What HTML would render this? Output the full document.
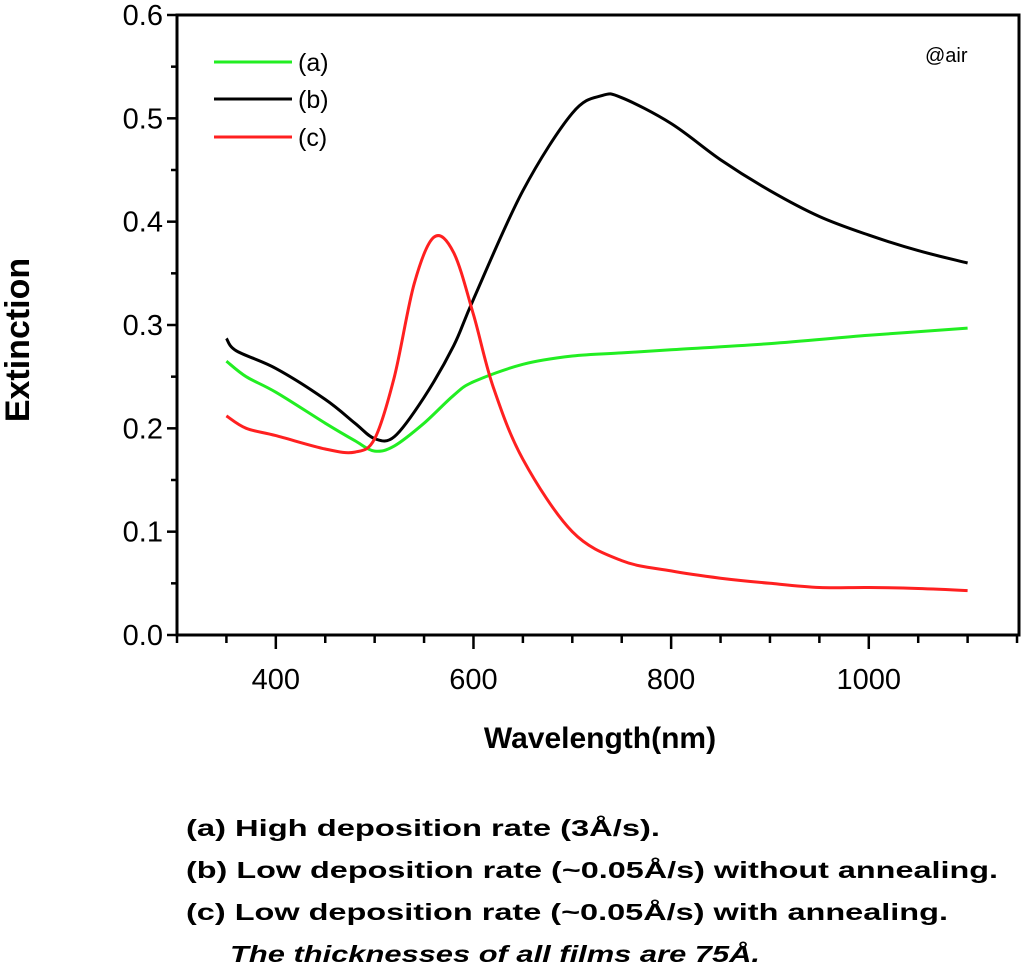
<!DOCTYPE html>
<html><head><meta charset="utf-8"><style>
body{margin:0;background:#fff;}
svg{display:block;font-family:"Liberation Sans",sans-serif;}
</style></head><body>
<svg id="chart" width="1024" height="971" viewBox="0 0 1024 971">
<g id="axes"></g><g id="series"></g>
<text x="18" y="340" transform="rotate(-90 18 340)" text-anchor="middle" dominant-baseline="central" font-size="34" font-weight="bold">Extinction</text>
<text x="600" y="748" text-anchor="middle" font-size="30" font-weight="bold">Wavelength(nm)</text>
<text x="925" y="62" font-size="20">@air</text>
<g>
<line x1="214" y1="62" x2="292" y2="62" stroke="#22ee22" stroke-width="3"/>
<text x="298" y="71" font-size="25">(a)</text>
<line x1="214" y1="99" x2="292" y2="99" stroke="#000" stroke-width="3"/>
<text x="298" y="108" font-size="25">(b)</text>
<line x1="214" y1="137" x2="292" y2="137" stroke="#ff2020" stroke-width="3"/>
<text x="298" y="146" font-size="25">(c)</text>
</g>
<g font-weight="bold" font-size="23">
<text x="186" y="836" textLength="474" lengthAdjust="spacingAndGlyphs">(a)  High deposition rate (3Å/s).</text>
<text x="186" y="878" textLength="812" lengthAdjust="spacingAndGlyphs">(b)  Low deposition rate (~0.05Å/s) without annealing.</text>
<text x="186" y="920" textLength="762" lengthAdjust="spacingAndGlyphs">(c)  Low deposition rate (~0.05Å/s) with annealing.</text>
<text x="230" y="962" font-style="italic" textLength="530" lengthAdjust="spacingAndGlyphs">The thicknesses of all films are 75Å.</text>
</g>
</svg>
<script>
const xA=[350,370,400,450,480,500,520,550,580,600,650,700,750,800,900,1000,1100];
const yA=[0.265,0.25,0.235,0.205,0.188,0.178,0.183,0.205,0.232,0.245,0.262,0.27,0.273,0.276,0.282,0.29,0.297];
const xB=[350,360,400,450,480,500,520,550,580,600,650,700,730,750,800,850,900,950,1000,1050,1100];
const yB=[0.287,0.275,0.258,0.228,0.205,0.19,0.192,0.23,0.28,0.325,0.43,0.505,0.522,0.52,0.495,0.46,0.43,0.405,0.387,0.372,0.36];
const xC=[350,370,400,450,480,500,520,540,560,580,600,620,650,700,750,800,850,900,950,1000,1050,1100];
const yC=[0.212,0.2,0.193,0.18,0.177,0.19,0.25,0.34,0.385,0.37,0.31,0.24,0.17,0.1,0.072,0.062,0.055,0.05,0.046,0.046,0.045,0.043];
const xTicks=[400,600,800,1000];
const yTicks=[0.0,0.1,0.2,0.3,0.4,0.5,0.6];
const L=177,R=1019,T=15,B=635,X0=300,X1=1152;
const sx=v=>L+(v-X0)/(X1-X0)*(R-L);
const sy=v=>B-v/0.6*(B-T);
const NS="http://www.w3.org/2000/svg";
const ax=document.getElementById('axes'),se=document.getElementById('series');
function mk(tag,at,p){const e=document.createElementNS(NS,tag);for(const k in at)e.setAttribute(k,at[k]);p.appendChild(e);return e;}
let r=mk('rect',{x:L,y:T,width:R-L,height:B-T,fill:'none',stroke:'#000','stroke-width':3},ax);


for(let v=300;v<=1150;v+=50){const maj=xTicks.includes(v);const t=mk('line',{x1:sx(v),x2:sx(v),y1:B,y2:B+(maj?14:8),stroke:'#000','stroke-width':2.5},ax);

}
xTicks.forEach(v=>{const t=mk('text',{x:sx(v),y:B+54,'text-anchor':'middle','font-size':29},ax);t.textContent=v;

});
for(let i=0;i<=12;i++){const v=i*0.05;const maj=i%2==0;const t=mk('line',{x1:L-(maj?10:6),x2:L,y1:sy(v),y2:sy(v),stroke:'#000','stroke-width':2.5},ax);

}
yTicks.forEach(v=>{const t=mk('text',{x:L-14,y:sy(v)+10,'text-anchor':'end','font-size':29},ax);t.textContent=v.toFixed(1);

});
function line(xs,ys,c,n){const P=xs.map((x,i)=>[sx(x),sy(ys[i])]);
let d='M'+P[0][0].toFixed(1)+','+P[0][1].toFixed(1);
for(let i=0;i<P.length-1;i++){const p0=P[i-1]||P[i],p1=P[i],p2=P[i+1],p3=P[i+2]||p2;
const c1=[p1[0]+(p2[0]-p0[0])/6,p1[1]+(p2[1]-p0[1])/6],c2=[p2[0]-(p3[0]-p1[0])/6,p2[1]-(p3[1]-p1[1])/6];
d+='C'+c1.map(v=>v.toFixed(1))+' '+c2.map(v=>v.toFixed(1))+' '+p2.map(v=>v.toFixed(1));}
const p=mk('path',{d:d,fill:'none',stroke:c,'stroke-width':3,'stroke-linejoin':'round'},se);

}
line(xA,yA,'#22ee22','series-a-line');
line(xB,yB,'#000','series-b-line');
line(xC,yC,'#ff2020','series-c-line');
</script>
</body></html>
